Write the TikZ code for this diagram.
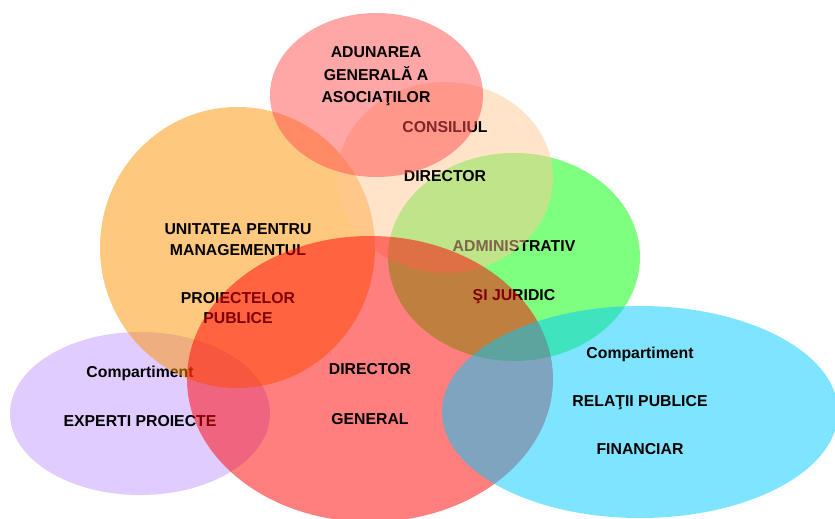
\documentclass[tikz,border=0pt]{standalone}
\usepackage{fontspec}
\setmainfont{Liberation Sans}
\usepackage{xcolor}
\usetikzlibrary{shapes.geometric}

\definecolor{pinkAG}{HTML}{FF4D4D}
\definecolor{peachCD}{HTML}{FFC995}
\definecolor{greenAJ}{HTML}{00FF00}
\definecolor{orangeUP}{HTML}{FF9100}
\definecolor{redDG}{HTML}{FF0000}
\definecolor{lilacEP}{HTML}{C199FF}
\definecolor{cyanRP}{HTML}{00C9FF}

\begin{document}
\begin{tikzpicture}[
  x=1pt, y=-1pt,
  blob/.style={ellipse, draw=none, fill opacity=0.5, inner sep=0pt},
  lbl/.style={font=\fontsize{15.8}{22}\selectfont\bfseries, align=center,
              text=black, inner sep=0pt}
]
\useasboundingbox (0,0) rectangle (835,519);
\clip (0,0) rectangle (835,519);
%% compartiment experti proiecte
\node[blob, fill=lilacEP, minimum width=260, minimum height=163] (experti) at (140,413.5) {};
\node[lbl] (experti_t) at (140,396) {Compartiment\\[27pt]EXPERTI PROIECTE};
%% unitatea pentru managementul proiectelor publice
\node[blob, fill=orangeUP, minimum width=275, minimum height=281] (unitatea) at (237.5,247.5) {};
\node[lbl, font=\fontsize{15.8}{20.5}\selectfont\bfseries] (unitatea_t) at (238,274)
    {UNITATEA PENTRU\\MANAGEMENTUL\\[27.5pt]PROIECTELOR\\PUBLICE};
%% administrativ si juridic
\node[blob, fill=greenAJ, minimum width=252, minimum height=208] (admin) at (514,257) {};
\node[lbl] (admin_t) at (514,272) {ADMINISTRATIV\\[27pt]ŞI JURIDIC};
%% consiliul director
\node[blob, fill=peachCD, minimum width=216, minimum height=191] (consiliul) at (445,177.5) {};
\node[lbl] (consiliul_t) at (445,151.5) {CONSILIUL\\[27pt]DIRECTOR};
%% director general
\node[blob, fill=redDG, minimum width=366, minimum height=286] (director) at (370,379) {};
\node[lbl] (director_t) at (370,394) {DIRECTOR\\[28pt]GENERAL};
%% adunarea generala
\node[blob, fill=pinkAG, minimum width=213, minimum height=164] (adunarea) at (376.5,95) {};
\node[lbl, font=\fontsize{15.8}{22.5}\selectfont\bfseries] (adunarea_t) at (376,76.5)
    {ADUNAREA\\GENERALĂ A\\ASOCIAŢILOR};
%% compartiment relatii publice
\node[blob, fill=cyanRP, minimum width=396, minimum height=212] (relatii) at (640,412) {};
\node[lbl] (relatii_t) at (640,400.5) {Compartiment\\[26pt]RELAŢII PUBLICE\\[26pt]FINANCIAR};
\end{tikzpicture}
\end{document}
